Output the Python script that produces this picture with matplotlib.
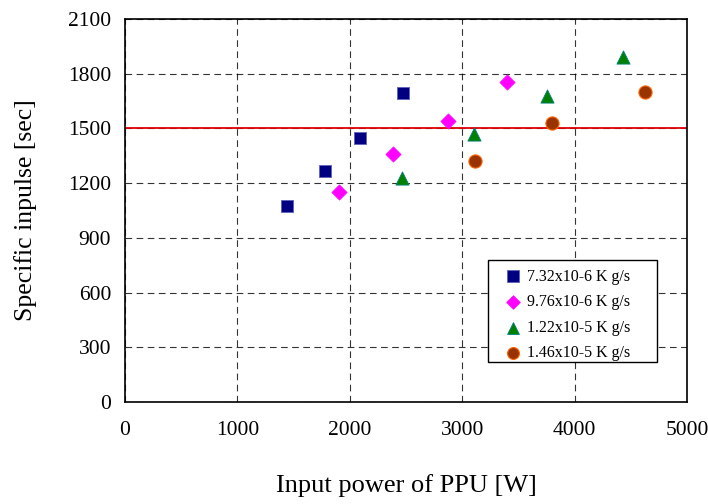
import matplotlib
matplotlib.use("Agg")
import matplotlib.pyplot as plt
from matplotlib.patches import Rectangle

plt.rcParams['font.family'] = ['Liberation Serif', 'DejaVu Serif']

labels = ["7.32x10-6 K g/s", "9.76x10-6 K g/s", "1.22x10-5 K g/s", "1.46x10-5 K g/s"]
s1_x = [1440, 1780, 2090, 2470]
s1_y = [1075, 1265, 1450, 1693]
s2_x = [1905, 2380, 2875, 3400]
s2_y = [1150, 1360, 1540, 1755]
s3_x = [2465, 3105, 3755, 4430]
s3_y = [1228, 1470, 1680, 1892]
s4_x = [3115, 3800, 4625]
s4_y = [1320, 1532, 1698]
ref_isp = 1500

xticks = [0, 1000, 2000, 3000, 4000, 5000]
yticks = [0, 300, 600, 900, 1200, 1500, 1800, 2100]

fig = plt.figure(figsize=(7.08, 5.04), dpi=100)
ax = fig.add_axes([125/708, (504-402)/504, (687-125)/708, (402-19)/504])

ax.scatter(s1_x, s1_y, marker='s', s=80, color='#000080', edgecolors='#6060c0', linewidths=0.6, label=labels[0], zorder=3)
ax.scatter(s2_x, s2_y, marker='D', s=60, color='#ff00ff', edgecolors='#ff00ff', linewidths=0.5, label=labels[1], zorder=3)
ax.scatter(s3_x, s3_y, marker='^', s=90, color='#008000', edgecolors='#008080', linewidths=0.6, label=labels[2], zorder=3)
ax.scatter(s4_x, s4_y, marker='o', s=90, color='#993300', edgecolors='#ff6600', linewidths=0.8, label=labels[3], zorder=3)

ax.axhline(ref_isp, color='#e00000', linewidth=1.3, zorder=2)

ax.set_xlim(0, 5000)
ax.set_ylim(0, 2100)
ax.set_xticks(xticks)
ax.set_yticks(yticks)
ax.tick_params(length=0, labelsize=15.5)
ax.tick_params(axis='x', pad=14)
ax.tick_params(axis='y', pad=10)
ax.grid(True, color='black', linestyle=(0, (6, 4)), linewidth=0.8, alpha=0.8)
for sp in ax.spines.values():
    sp.set_linewidth(1.2)

ax.set_xlabel("Input power of PPU [W]", fontsize=19, labelpad=24)
ax.set_ylabel("Specific inpulse [sec]", fontsize=18.5, labelpad=22)

# legend frame drawn separately
ax.add_patch(Rectangle(((488-125)/562, (402-362)/383), (657-488)/562, (362-260)/383,
                       transform=ax.transAxes, facecolor='white', edgecolor='black',
                       linewidth=1.0, zorder=4))
leg = ax.legend(loc='lower left', bbox_to_anchor=((488-125)/562, (402-367)/383, (657-488)/562, (362-260)/383),
                mode='expand', borderaxespad=0, fontsize=11.5, frameon=False,
                handletextpad=-0.3, borderpad=0.35, labelspacing=0.6, handlelength=2.4, markerscale=0.9)
leg.set_zorder(5)

fig.savefig("out.png", dpi=100)
